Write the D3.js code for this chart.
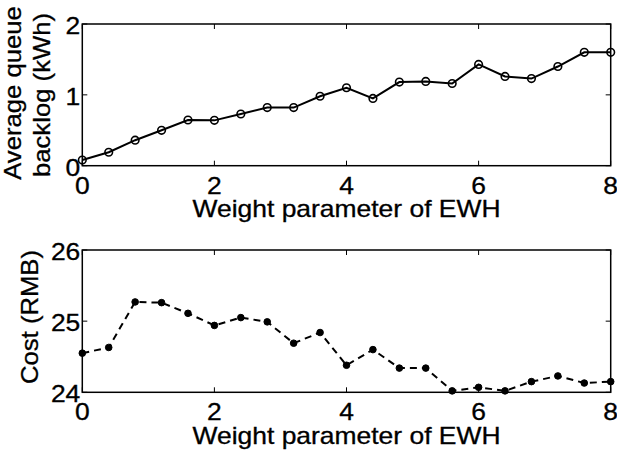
<!DOCTYPE html>
<html>
<head>
<meta charset="utf-8">
<script src="https://cdn.jsdelivr.net/npm/d3@7"></script>
<style>
  body { margin: 0; background: #fff; }
  text { font-family: "Liberation Sans", Arial, sans-serif; fill: #000; stroke: #000; stroke-width: 0.3px; }
</style>
</head>
<body>
<div id="chart"></div>
<script>
// data
var weights = [0, 0.4, 0.8, 1.2, 1.6, 2.0, 2.4, 2.8, 3.2, 3.6, 4.0, 4.4, 4.8, 5.2, 5.6, 6.0, 6.4, 6.8, 7.2, 7.6, 8.0];
var backlog = [0.08, 0.19, 0.36, 0.50, 0.645, 0.64, 0.73, 0.82, 0.82, 0.98, 1.10, 0.95, 1.18, 1.19, 1.16, 1.43, 1.26, 1.23, 1.40, 1.60, 1.60];
var cost = [24.55, 24.63, 25.27, 25.26, 25.11, 24.94, 25.05, 24.99, 24.69, 24.84, 24.38, 24.60, 24.34, 24.34, 24.02, 24.07, 24.02, 24.15, 24.23, 24.13, 24.15];
var xTicks = [0, 2, 4, 6, 8];
var backlogTicks = [0, 1, 2];
var costTicks = [24, 25, 26];
var xLabel = "Weight parameter of EWH";

var width = 617, height = 451;
var fontSize = 23;
var stretch = 1.15; // glyphs in the original are wider than Liberation Sans

var svg = d3.select("#chart").append("svg")
    .attr("width", width)
    .attr("height", height);

svg.append("rect")
    .attr("width", width)
    .attr("height", height)
    .attr("fill", "#fff");

// shared x range
var x = d3.scaleLinear().domain([0, 8]).range([82.3, 610.7]);

function drawPanel(top, bottom, yDomain, yTicks, values, dashed, filled, yLabels, labelX, labelY) {
    var y = d3.scaleLinear().domain(yDomain).range([bottom, top]);
    var g = svg.append("g");

    // ticks on all four sides, pointing in
    var tickLen = 5;
    xTicks.forEach(function (t) {
        g.append("line").attr("x1", x(t)).attr("x2", x(t))
            .attr("y1", bottom).attr("y2", bottom - tickLen)
            .attr("stroke", "#000").attr("stroke-width", 1);
        g.append("line").attr("x1", x(t)).attr("x2", x(t))
            .attr("y1", top).attr("y2", top + tickLen)
            .attr("stroke", "#000").attr("stroke-width", 1);
        g.append("text")
            .attr("transform", "translate(" + x(t) + "," + (bottom + 28) + ") scale(" + stretch + ",1)")
            .attr("text-anchor", "middle")
            .style("font-size", fontSize + "px")
            .text(t);
    });
    yTicks.forEach(function (t) {
        g.append("line").attr("x1", x(0)).attr("x2", x(0) + tickLen)
            .attr("y1", y(t)).attr("y2", y(t))
            .attr("stroke", "#000").attr("stroke-width", 1);
        g.append("line").attr("x1", x(8)).attr("x2", x(8) - tickLen)
            .attr("y1", y(t)).attr("y2", y(t))
            .attr("stroke", "#000").attr("stroke-width", 1);
        g.append("text")
            .attr("transform", "translate(" + (x(0) - 2) + "," + (y(t) + 10) + ") scale(" + stretch + ",1)")
            .attr("text-anchor", "end")
            .style("font-size", fontSize + "px")
            .text(t);
    });

    // box
    g.append("rect")
        .attr("x", x(0)).attr("y", top)
        .attr("width", x(8) - x(0)).attr("height", bottom - top)
        .attr("fill", "none")
        .attr("stroke", "#000")
        .attr("stroke-width", 1.5);

    // series line
    var line = d3.line()
        .x(function (d, i) { return x(weights[i]); })
        .y(function (d) { return y(d); });

    g.append("path")
        .datum(values)
        .attr("d", line)
        .attr("fill", "none")
        .attr("stroke", "#000")
        .attr("stroke-width", 2)
        .attr("stroke-dasharray", dashed ? "7,5" : null);

    // markers
    g.selectAll(".dot")
        .data(values)
        .enter().append("circle")
        .attr("cx", function (d, i) { return x(weights[i]); })
        .attr("cy", function (d) { return y(d); })
        .attr("r", filled ? 3.3 : 3.8)
        .attr("fill", filled ? "#000" : "none")
        .attr("stroke", "#000")
        .attr("stroke-width", filled ? 1 : 1.6);

    // x label
    g.append("text")
        .attr("transform", "translate(" + ((x(0) + x(8)) / 2) + "," + (bottom + 51.5) + ") scale(" + stretch + ",1)")
        .attr("text-anchor", "middle")
        .style("font-size", fontSize + "px")
        .text(xLabel);

    // y label (one or two lines), a little stretched along the text
    yLabels.forEach(function (lab, i) {
        g.append("text")
            .attr("transform", "translate(" + labelX[i] + "," + labelY[i] + ") rotate(-90) scale(1.07,1)")
            .attr("text-anchor", "middle")
            .style("font-size", "24px")
            .text(lab);
    });
}

drawPanel(24, 165.7, [0, 2], backlogTicks, backlog, false, false,
    ["Average queue", "backlog (kWh)"], [21, 50], [93, 95]);
drawPanel(250, 392.3, [24, 26], costTicks, cost, true, true,
    ["Cost (RMB)"], [37.5], [317]);
</script>
</body>
</html>
